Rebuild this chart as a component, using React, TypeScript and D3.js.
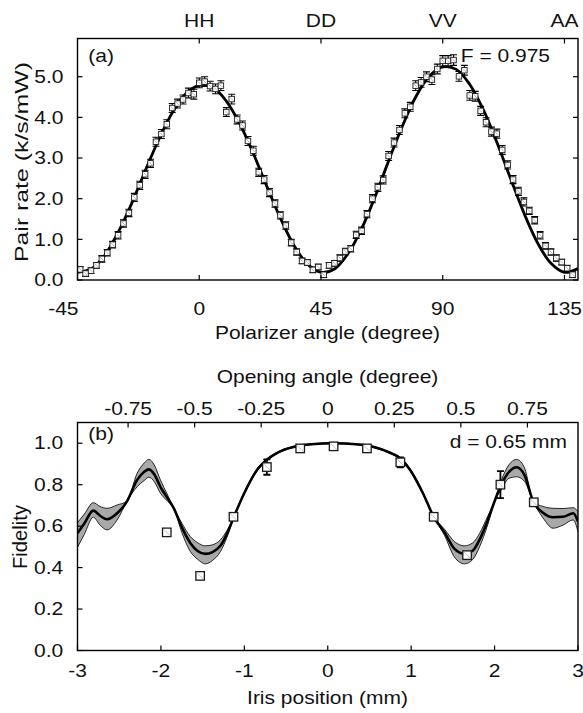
import React from 'react';
import * as d3 from 'd3';

const FONT = '"Liberation Sans", Arial, Helvetica, sans-serif';

// (a) pair rate against polarizer angle
const polAngles = [
  -44, -42, -40, -38, -36, -34, -32, -30, -28, -26,
  -24, -22, -20, -18, -16, -14, -12, -10, -8, -6,
  -4, -2, 0, 2, 4, 6, 8, 10, 12, 14,
  16, 18, 20, 22, 24, 26, 28, 30, 32, 34,
  36, 38, 40, 42, 44, 46, 48, 50, 52, 54,
  56, 58, 60, 62, 64, 66, 68, 70, 72, 74,
  76, 78, 80, 82, 84, 86, 88, 90, 92, 94,
  96, 98, 100, 102, 104, 106, 108, 110, 112, 114,
  116, 118, 120, 122, 124, 126, 128, 130, 132, 134,
  136, 138,
];
const pairRates = [
  0.26, 0.16, 0.23, 0.36, 0.52, 0.67, 0.87, 1.10, 1.39, 1.65,
  2.03, 2.33, 2.60, 2.87, 3.40, 3.59, 3.83, 4.23, 4.34, 4.44,
  4.60, 4.57, 4.85, 4.88, 4.77, 4.70, 4.78, 4.13, 4.45, 3.95,
  3.80, 3.42, 3.18, 2.65, 2.47, 2.15, 1.88, 1.59, 1.34, 0.92,
  0.69, 0.47, 0.43, 0.25, 0.32, 0.13, 0.36, 0.41, 0.54, 0.70,
  0.77, 1.11, 1.21, 1.62, 2.00, 2.28, 2.46, 3.05, 3.38, 3.69,
  4.10, 4.26, 4.78, 4.86, 5.00, 4.93, 5.19, 5.39, 5.39, 5.41,
  5.01, 5.16, 4.54, 4.52, 4.16, 3.88, 3.65, 3.60, 3.20, 2.83,
  2.47, 2.18, 1.92, 1.70, 1.47, 1.10, 0.84, 0.69, 0.54, 0.44,
  0.29, 0.13,
];
const pairErrors = [
  0.07, 0.07, 0.07, 0.07, 0.08, 0.08, 0.08, 0.09, 0.09, 0.09,
  0.10, 0.10, 0.10, 0.10, 0.11, 0.11, 0.11, 0.11, 0.11, 0.11,
  0.12, 0.12, 0.12, 0.12, 0.12, 0.12, 0.12, 0.11, 0.12, 0.11,
  0.11, 0.11, 0.11, 0.10, 0.10, 0.10, 0.09, 0.09, 0.09, 0.08,
  0.08, 0.07, 0.07, 0.07, 0.07, 0.07, 0.07, 0.07, 0.08, 0.08,
  0.08, 0.09, 0.09, 0.09, 0.10, 0.10, 0.10, 0.11, 0.11, 0.11,
  0.11, 0.11, 0.12, 0.12, 0.12, 0.12, 0.12, 0.13, 0.13, 0.13,
  0.12, 0.12, 0.12, 0.12, 0.11, 0.11, 0.11, 0.11, 0.11, 0.10,
  0.10, 0.10, 0.10, 0.09, 0.09, 0.09, 0.08, 0.08, 0.08, 0.07,
  0.07, 0.07,
];
const fitAngles = [
  -45, -40, -35, -30, -25, -20, -15, -10, -5, 0,
  5, 10, 15, 20, 25, 30, 35, 40, 45, 50,
  55, 60, 65, 70, 75, 80, 85, 90, 95, 100,
  105, 110, 115, 120, 125, 130, 135, 140,
];
const fitRates = [
  0.19, 0.27, 0.60, 1.17, 1.88, 2.68, 3.45, 4.11, 4.58, 4.79,
  4.74, 4.40, 3.84, 3.11, 2.30, 1.52, 0.85, 0.39, 0.19, 0.27,
  0.65, 1.26, 2.05, 2.93, 3.77, 4.50, 5.01, 5.24, 5.18, 4.81,
  4.19, 3.39, 2.51, 1.65, 0.92, 0.41, 0.19, 0.28,
];
const angleTicks = [-45, 0, 45, 90, 135];
const basisTicks = [0, 45, 90, 135];
const basisLabels = ['HH', 'DD', 'VV', 'AA'];
const rateTicks = [0, 1, 2, 3, 4, 5];

// (b) fidelity against iris position
const irisPositions = [-1.93, -1.53, -1.13, -0.73, -0.33, 0.07, 0.47, 0.87, 1.27, 1.67, 2.07, 2.47];
const fidelities = [0.57, 0.36, 0.645, 0.885, 0.975, 0.985, 0.975, 0.908, 0.645, 0.46, 0.80, 0.715];
const fidelityErrors = [0.005, 0.005, 0.008, 0.037, 0.008, 0.008, 0.008, 0.024, 0.008, 0.008, 0.065, 0.008];

const theoryIris = [
  -3.0, -2.92, -2.81, -2.73, -2.645, -2.525, -2.405, -2.285, -2.2, -2.145,
  -2.08, -2.006, -1.92, -1.845, -1.75, -1.646, -1.56, -1.467, -1.38, -1.287,
  -1.2, -1.127, -1.0, -0.85, -0.73, -0.6, -0.4, -0.2, 0.07, 0.34,
  0.54, 0.74, 0.87, 0.99, 1.14, 1.27, 1.4, 1.52, 1.64, 1.74,
  1.82, 1.92, 2.0, 2.08, 2.17, 2.265, 2.36, 2.464, 2.58, 2.7,
  2.82, 2.943, 3.0,
];
const theoryHigh = [
  0.617, 0.657, 0.713, 0.695, 0.686, 0.702, 0.721, 0.855, 0.905, 0.922,
  0.895, 0.823, 0.750, 0.686, 0.615, 0.549, 0.520, 0.505, 0.510, 0.534,
  0.585, 0.645, 0.765, 0.875, 0.925, 0.958, 0.986, 0.997, 1.002, 0.997,
  0.986, 0.958, 0.932, 0.875, 0.765, 0.647, 0.585, 0.525, 0.505, 0.520,
  0.565, 0.650, 0.720, 0.820, 0.895, 0.922, 0.880, 0.718, 0.695, 0.686,
  0.685, 0.689, 0.670,
];
const theoryMid = [
  0.566, 0.612, 0.675, 0.650, 0.633, 0.662, 0.721, 0.823, 0.862, 0.874,
  0.850, 0.790, 0.735, 0.686, 0.595, 0.518, 0.480, 0.466, 0.475, 0.505,
  0.570, 0.643, 0.760, 0.870, 0.920, 0.955, 0.983, 0.995, 1.000, 0.995,
  0.983, 0.955, 0.927, 0.870, 0.760, 0.645, 0.570, 0.490, 0.466, 0.482,
  0.535, 0.630, 0.720, 0.800, 0.860, 0.884, 0.845, 0.718, 0.665, 0.643,
  0.645, 0.662, 0.622,
];
const theoryLow = [
  0.498, 0.559, 0.643, 0.605, 0.582, 0.630, 0.721, 0.790, 0.820, 0.836,
  0.815, 0.759, 0.720, 0.686, 0.570, 0.477, 0.440, 0.418, 0.435, 0.477,
  0.555, 0.641, 0.755, 0.865, 0.915, 0.952, 0.980, 0.993, 0.998, 0.993,
  0.980, 0.952, 0.922, 0.865, 0.755, 0.643, 0.555, 0.450, 0.418, 0.440,
  0.500, 0.610, 0.720, 0.775, 0.830, 0.838, 0.815, 0.718, 0.640, 0.590,
  0.605, 0.630, 0.573,
];
const irisTicks = [-3, -2, -1, 0, 1, 2, 3];
const fidelityTicks = [0, 0.2, 0.4, 0.6, 0.8, 1.0];
const openingTicks = [-0.75, -0.5, -0.25, 0, 0.25, 0.5, 0.75];
const openingLabels = ['-0.75', '-0.5', '-0.25', '0', '0.25', '0.5', '0.75'];

type TxtProps = {
  x: number;
  y: number;
  anchor?: 'start' | 'middle' | 'end';
  rotate?: number;
  size?: number;
  sx?: number;
  length?: number;
  children: React.ReactNode;
};

function Txt({ x, y, anchor = 'middle', rotate = 0, size = 17.5, sx = 1.2, length, children }: TxtProps) {
  const extra = length ? { textLength: length, lengthAdjust: 'spacingAndGlyphs' } : {};
  return (
    <text
      transform={`translate(${x},${y}) rotate(${rotate}) scale(${length ? 1 : sx},1)`}
      textAnchor={anchor}
      fontSize={size}
      fontFamily={FONT}
      fill="#111"
      {...extra}
    >
      {children}
    </text>
  );
}

function Marker({ cx, cy, size, stroke, sw }: { cx: number; cy: number; size: number; stroke: number; sw?: number }) {
  const h = size / 2;
  return (
    <g>
      <rect x={cx - h} y={cy - h} width={size} height={size} fill="#fff" stroke="#1a1a1a" strokeWidth={stroke} />
      <line x1={cx - h + 1} y1={cy - h + 1} x2={cx + h - 1} y2={cy + h - 1} stroke="#9a9a9a" strokeWidth={sw ?? 0.7} />
    </g>
  );
}

function ErrorBar({ x, y0, y1, cap, width }: { x: number; y0: number; y1: number; cap: number; width: number }) {
  return (
    <g stroke="#000" strokeWidth={width}>
      <line x1={x} x2={x} y1={y0} y2={y1} />
      <line x1={x - cap / 2} x2={x + cap / 2} y1={y0} y2={y0} />
      <line x1={x - cap / 2} x2={x + cap / 2} y1={y1} y2={y1} />
    </g>
  );
}

export default function App() {
  const left = 77.5;
  const right = 578;

  // panel (a)
  const topA = 38.5;
  const bottomA = 280;
  const xA = d3.scaleLinear().domain([-45, 140]).range([left, right]);
  const yA = d3.scaleLinear().domain([0, 5.94]).range([bottomA, topA]);
  const fitLine = d3
    .line<number>()
    .x((_, i) => xA(fitAngles[i]))
    .y((d) => yA(d))
    .curve(d3.curveCatmullRom);

  // panel (b)
  const topB = 422.5;
  const bottomB = 650.5;
  const xB = d3.scaleLinear().domain([-3, 3]).range([left, right]);
  const yB = d3.scaleLinear().domain([0, 1.1]).range([bottomB, topB]);
  const xOpen = d3.scaleLinear().domain([-0.94, 0.94]).range([left, right]);
  const bandArea = d3
    .area<number>()
    .x((_, i) => xB(theoryIris[i]))
    .y0((_, i) => yB(theoryLow[i]))
    .y1((d) => yB(d))
    .curve(d3.curveMonotoneX);
  const theoryLine = d3
    .line<number>()
    .x((_, i) => xB(theoryIris[i]))
    .y((d) => yB(d))
    .curve(d3.curveMonotoneX);

  const tick = 5;

  return (
    <svg
      width={583}
      height={713}
      viewBox="0 0 583 713"
      style={{ position: 'absolute', left: 0, top: 0, background: '#fff' }}
    >
      <defs>
        <clipPath id="clipA">
          <rect x={left} y={topA} width={right - left} height={bottomA - topA} />
        </clipPath>
        <clipPath id="clipB">
          <rect x={left} y={topB} width={right - left} height={bottomB - topB} />
        </clipPath>
      </defs>

      {/* ---------- panel (a) ---------- */}
      <g clipPath="url(#clipA)">
        <path d={fitLine(fitRates) ?? ''} fill="none" stroke="#000" strokeWidth={2.8} />
        {polAngles.map((a, i) => (
          <ErrorBar
            key={`ea${i}`}
            x={xA(a)}
            y0={yA(pairRates[i] - pairErrors[i])}
            y1={yA(pairRates[i] + pairErrors[i])}
            cap={7}
            width={1.1}
          />
        ))}
        {polAngles.map((a, i) => (
          <Marker key={`ma${i}`} cx={xA(a)} cy={yA(pairRates[i])} size={5.5} stroke={0.9} />
        ))}
      </g>
      <rect x={left} y={topA} width={right - left} height={bottomA - topA} fill="none" stroke="#000" strokeWidth={1.4} />
      <g stroke="#000" strokeWidth={1.2}>
        {angleTicks.map((t) => (
          <line key={`xa${t}`} x1={xA(t)} x2={xA(t)} y1={bottomA} y2={bottomA - tick} />
        ))}
        {basisTicks.map((t) => (
          <line key={`ba${t}`} x1={xA(t)} x2={xA(t)} y1={topA} y2={topA + tick} />
        ))}
        {rateTicks.map((t) => (
          <g key={`ya${t}`}>
            <line x1={left} x2={left + tick} y1={yA(t)} y2={yA(t)} />
            <line x1={right} x2={right - tick} y1={yA(t)} y2={yA(t)} />
          </g>
        ))}
      </g>
      {angleTicks.map((t, i) => (
        <Txt key={`xla${t}`} x={i === 0 ? xA(t) + 1 : xA(t)} y={315} anchor={i === 0 ? 'end' : 'middle'}>
          {String(t)}
        </Txt>
      ))}
      {basisTicks.map((t, i) => (
        <Txt key={`bla${t}`} x={xA(t)} y={26.7}>
          {basisLabels[i]}
        </Txt>
      ))}
      {rateTicks.map((t) => (
        <Txt key={`yla${t}`} x={63.5} y={yA(t) + 6.2} anchor="end">
          {d3.format('.1f')(t)}
        </Txt>
      ))}
      <Txt x={327.5} y={338.5}>Polarizer angle (degree)</Txt>
      <Txt x={27.5} y={162} rotate={-90} size={19} length={200}>
        Pair rate (k/s/mW)
      </Txt>
      <Txt x={88.3} y={61.5} anchor="start">(a)</Txt>
      <Txt x={550} y={61.7} anchor="end">F = 0.975</Txt>

      {/* ---------- panel (b) ---------- */}
      <g clipPath="url(#clipB)">
        <path d={bandArea(theoryHigh) ?? ''} fill="#a9a9a9" stroke="none" />
        <path d={theoryLine(theoryHigh) ?? ''} fill="none" stroke="#111" strokeWidth={0.9} />
        <path d={theoryLine(theoryLow) ?? ''} fill="none" stroke="#111" strokeWidth={0.9} />
        <path d={theoryLine(theoryMid) ?? ''} fill="none" stroke="#000" strokeWidth={2.6} />
        {irisPositions.map((p, i) => (
          <ErrorBar
            key={`eb${i}`}
            x={xB(p)}
            y0={yB(fidelities[i] - fidelityErrors[i])}
            y1={yB(fidelities[i] + fidelityErrors[i])}
            cap={7}
            width={1.8}
          />
        ))}
        {irisPositions.map((p, i) => (
          <Marker key={`mb${i}`} cx={xB(p)} cy={yB(fidelities[i])} size={8.5} stroke={1.3} sw={0.6} />
        ))}
      </g>
      <rect x={left} y={topB} width={right - left} height={bottomB - topB} fill="none" stroke="#000" strokeWidth={1.4} />
      <g stroke="#000" strokeWidth={1.2}>
        {irisTicks.map((t) => (
          <line key={`xb${t}`} x1={xB(t)} x2={xB(t)} y1={bottomB} y2={bottomB - tick} />
        ))}
        {openingTicks.map((t) => (
          <line key={`ob${t}`} x1={xOpen(t)} x2={xOpen(t)} y1={topB} y2={topB + tick} />
        ))}
        {fidelityTicks.map((t) => (
          <line key={`yb${t}`} x1={left} x2={left + tick} y1={yB(t)} y2={yB(t)} />
        ))}
      </g>
      {irisTicks.map((t) => (
        <Txt key={`xlb${t}`} x={xB(t)} y={676.7}>
          {String(t)}
        </Txt>
      ))}
      {openingTicks.map((t, i) => (
        <Txt key={`olb${t}`} x={xOpen(t)} y={414.5}>
          {openingLabels[i]}
        </Txt>
      ))}
      {fidelityTicks.map((t) => (
        <Txt key={`ylb${t}`} x={63.3} y={yB(t) + 6.2} anchor="end">
          {d3.format('.1f')(t)}
        </Txt>
      ))}
      <Txt x={327.5} y={383}>Opening angle (degree)</Txt>
      <Txt x={327.5} y={704}>Iris position (mm)</Txt>
      <Txt x={26.5} y={537} rotate={-90} size={19.5} length={64}>
        Fidelity
      </Txt>
      <Txt x={88.3} y={440} anchor="start">(b)</Txt>
      <Txt x={567} y={448.3} anchor="end">d = 0.65 mm</Txt>
    </svg>
  );
}
